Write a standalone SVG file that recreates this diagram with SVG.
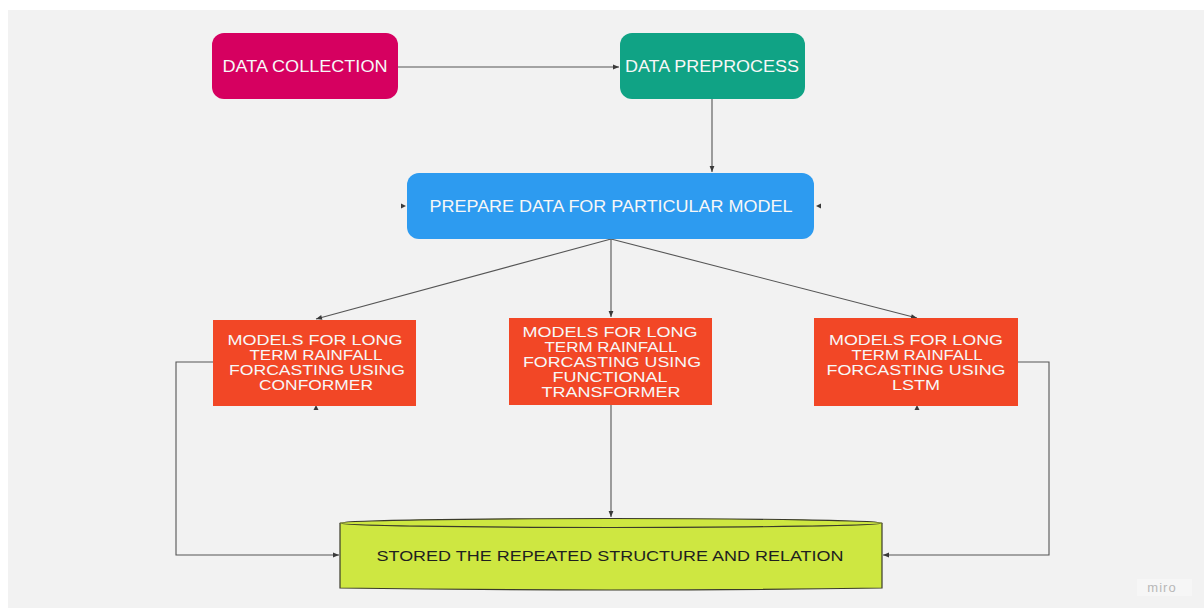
<svg xmlns="http://www.w3.org/2000/svg" width="1204" height="608" viewBox="0 0 1204 608">
  <defs>
    <marker id="arrow" viewBox="0 0 10 10" refX="10" refY="5" markerWidth="7" markerHeight="6" markerUnits="userSpaceOnUse" orient="auto">
      <path d="M0,1 L10,5 L0,9 z" fill="#3a3a3a"/>
    </marker>
    <style>
      .label { font-family: "Liberation Sans", Arial, sans-serif; fill: #f7f7f7; text-anchor: middle; }
      .top { font-size: 16px; }
      .model { font-size: 15px; }
      .store { font-family: "Liberation Sans", Arial, sans-serif; font-size: 15.5px; fill: #1f1f1f; text-anchor: middle; }
      .conn { fill: none; stroke: #555; stroke-width: 1.1; }
      .tip { fill: #3a3a3a; }
    </style>
  </defs>

  <!-- canvas -->
  <rect x="0" y="0" width="1204" height="608" fill="#ffffff"/>
  <rect x="8" y="10" width="1196" height="598" fill="#f2f2f2"/>

  <!-- connectors -->
  <g id="connectors">
    <path class="conn" d="M398,67 H619" marker-end="url(#arrow)"/>
    <path class="conn" d="M712,99 V172" marker-end="url(#arrow)"/>
    <path class="conn" d="M611,239 L316,319" marker-end="url(#arrow)"/>
    <path class="conn" d="M611,239 V317" marker-end="url(#arrow)"/>
    <path class="conn" d="M611,239 L917,318" marker-end="url(#arrow)"/>
    <path class="conn" d="M213,362 H176 V555 H339" marker-end="url(#arrow)"/>
    <path class="conn" d="M611,404 V517" marker-end="url(#arrow)"/>
    <path class="conn" d="M1018,362 H1049 V555 H883" marker-end="url(#arrow)"/>
    <!-- loose end tips -->
    <path class="tip" d="M401,203.5 L406,206 L401,208.5 z"/>
    <path class="tip" d="M821,203.5 L816,206 L821,208.5 z"/>
    <path class="tip" d="M313.5,410 L316,405 L318.5,410 z"/>
    <path class="tip" d="M914.5,410 L917,405 L919.5,410 z"/>
  </g>

  <g id="data-collection">
    <rect x="212" y="33" width="186" height="66" rx="12" fill="#d60060"/>
    <text class="label top" x="305" y="72" textLength="165" lengthAdjust="spacingAndGlyphs">DATA COLLECTION</text>
  </g>

  <g id="data-preprocess">
    <rect x="620" y="33" width="185" height="66" rx="12" fill="#10a385"/>
    <text class="label top" x="712" y="72" textLength="174" lengthAdjust="spacingAndGlyphs">DATA PREPROCESS</text>
  </g>

  <g id="prepare-data">
    <rect x="407" y="173" width="407" height="66" rx="12" fill="#2d9bf0"/>
    <text class="label top" x="611" y="212" textLength="363" lengthAdjust="spacingAndGlyphs">PREPARE DATA FOR PARTICULAR MODEL</text>
  </g>

  <g id="model-conformer">
    <rect x="213" y="320" width="203" height="86" fill="#f24726"/>
    <text class="label model" x="315" y="345" textLength="175" lengthAdjust="spacingAndGlyphs">MODELS FOR LONG</text>
    <text class="label model" x="316" y="360" textLength="133" lengthAdjust="spacingAndGlyphs">TERM RAINFALL</text>
    <text class="label model" x="317" y="375" textLength="176" lengthAdjust="spacingAndGlyphs">FORCASTING USING</text>
    <text class="label model" x="316" y="390" textLength="114" lengthAdjust="spacingAndGlyphs">CONFORMER</text>
  </g>

  <g id="model-functional-transformer">
    <rect x="509" y="318" width="203" height="87" fill="#f24726"/>
    <text class="label model" x="610" y="337" textLength="175" lengthAdjust="spacingAndGlyphs">MODELS FOR LONG</text>
    <text class="label model" x="611" y="352" textLength="133" lengthAdjust="spacingAndGlyphs">TERM RAINFALL</text>
    <text class="label model" x="612" y="367" textLength="178" lengthAdjust="spacingAndGlyphs">FORCASTING USING</text>
    <text class="label model" x="610" y="382" textLength="115" lengthAdjust="spacingAndGlyphs">FUNCTIONAL</text>
    <text class="label model" x="611" y="397" textLength="139" lengthAdjust="spacingAndGlyphs">TRANSFORMER</text>
  </g>

  <g id="model-lstm">
    <rect x="814" y="318" width="204" height="88" fill="#f24726"/>
    <text class="label model" x="916" y="345" textLength="174" lengthAdjust="spacingAndGlyphs">MODELS FOR LONG</text>
    <text class="label model" x="917" y="360" textLength="131" lengthAdjust="spacingAndGlyphs">TERM RAINFALL</text>
    <text class="label model" x="916" y="375" textLength="179" lengthAdjust="spacingAndGlyphs">FORCASTING USING</text>
    <text class="label model" x="916" y="390" textLength="48" lengthAdjust="spacingAndGlyphs">LSTM</text>
  </g>

  <g id="stored-structure">
    <path d="M340,523 V588 Q611,592 882,588 V523" fill="#cee741" stroke="#3a3a2a" stroke-width="1.2"/>
    <ellipse cx="611" cy="523" rx="271" ry="4.5" fill="#cee741" stroke="#3a3a2a" stroke-width="1.2"/>
    <text class="store" x="610" y="561" textLength="467" lengthAdjust="spacingAndGlyphs">STORED THE REPEATED STRUCTURE AND RELATION</text>
  </g>

  <g id="watermark">
    <rect x="1137" y="579" width="55" height="17" fill="#f6f6f6"/>
    <text x="1162" y="592" font-family="'Liberation Sans', Arial, sans-serif" font-size="13" fill="#b8b8b8" text-anchor="middle" letter-spacing="1">miro</text>
  </g>
</svg>
